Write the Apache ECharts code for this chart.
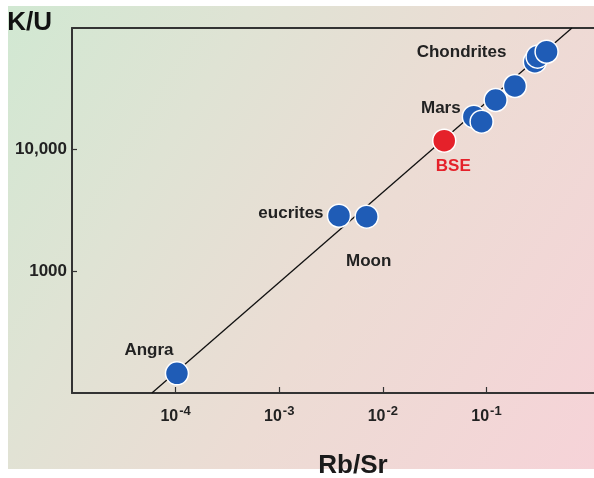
<!DOCTYPE html>
<html>
<head>
<meta charset="utf-8">
<script src="https://cdn.jsdelivr.net/npm/echarts@6/dist/echarts.min.js"></script>
<style>
  html, body { margin: 0; padding: 0; background: #ffffff; }
  #wrap { position: relative; width: 594px; height: 478px; overflow: hidden; }
  #bg { position: absolute; left: 8px; top: 6px; right: 0; bottom: 9px;
        background: linear-gradient(122deg, #d1e8d2 0%, #dfe3d4 28%, #ecdcd4 58%, #f6d3d8 100%); }
  #chart { position: absolute; left: 0; top: 0; width: 594px; height: 478px; }
</style>
</head>
<body>
<div id="wrap"><div id="bg"></div><div id="chart"></div></div>
<script>
// ---- data ----
const bodyRbSr  = [1.03e-4, 3.77e-3, 6.97e-3, 0.0755, 0.0897, 0.1225, 0.188, 0.293, 0.311, 0.380];
const bodyKU    = [145, 2865, 2812, 18660, 16980, 25600, 33350, 52850, 58080, 63830];
const bodyLabel = ['Angra', 'eucrites', 'Moon', 'Mars', '', '', '', '', 'Chondrites', ''];
const bseRbSr   = [0.0391];
const bseKU     = [11860];
const bseLabel  = ['BSE'];
const lineRbSr  = [5.9e-5, 0.667];
const lineKU    = [100, 100000];
const xTicks    = [1e-4, 1e-3, 1e-2, 1e-1];
const yTicks    = [1000, 10000];

// ---- label placement (style, not data) ----
const labelOffset = {
  'Angra': [-28, -23],
  'eucrites': [-48, -2],
  'Moon': [2, 45],
  'Mars': [-33, -8],
  'Chondrites': [-76, -4],
  'BSE': [9, 26]
};

const FONT = 'Liberation Sans, Arial, Helvetica, sans-serif';
const BLUE = '#1f5cb6';
const RED = '#e5212a';

function pointData(xs, ys, labels, color) {
  return xs.map((x, i) => {
    const item = { value: [x, ys[i]] };
    const t = labels[i];
    if (t) {
      item.label = {
        show: true, formatter: t, position: 'inside',
        offset: labelOffset[t],
        color: color, fontFamily: FONT, fontWeight: 'bold', fontSize: 17
      };
    }
    return item;
  });
}

const chart = echarts.init(document.getElementById('chart'), null, { renderer: 'canvas' });

const axisLineStyle = { color: '#333', width: 2 };

chart.setOption({
  backgroundColor: 'transparent',
  animation: false,
  grid: { left: 72, right: 0, top: 28, bottom: 85, containLabel: false, outerBoundsMode: 'none' },
  xAxis: [{
    type: 'log', logBase: 10, min: 1e-5, max: 1.09,
    name: 'Rb/Sr', nameLocation: 'middle', nameGap: 60,
    nameTextStyle: { fontFamily: FONT, fontWeight: 'bold', fontSize: 26, color: '#1a1a1a', padding: [0, 0, 0, 40] },
    axisLine: { show: true, lineStyle: axisLineStyle },
    axisTick: { show: true, inside: true, length: 6, customValues: xTicks, lineStyle: { color: '#333', width: 1.2 } },
    axisLabel: {
      show: true, margin: 12, customValues: xTicks,
      formatter: v => '{b|10}{s|' + Math.round(Math.log10(v)) + '}',
      rich: {
        b: { fontFamily: FONT, fontWeight: 'bold', fontSize: 16, color: '#222' },
        s: { fontFamily: FONT, fontWeight: 'bold', fontSize: 13, color: '#222', padding: [0, 0, 10, 1] }
      }
    },
    splitLine: { show: false }
  }, {
    type: 'log', logBase: 10, min: 1e-5, max: 1.09, position: 'top',
    axisLine: { show: true, lineStyle: axisLineStyle },
    axisTick: { show: false }, axisLabel: { show: false }, splitLine: { show: false }
  }],
  yAxis: {
    type: 'log', logBase: 10, min: 100, max: 100000,
    name: 'K/U', nameLocation: 'end', nameGap: 5,
    nameTextStyle: { fontFamily: FONT, fontWeight: 'bold', fontSize: 26, color: '#111',
                     align: 'right', verticalAlign: 'middle', padding: [0, 20, 0, 0] },
    axisLine: { show: true, lineStyle: axisLineStyle },
    axisTick: { show: true, inside: true, length: 5, customValues: yTicks, lineStyle: { color: '#333', width: 1.2 } },
    axisLabel: {
      show: true, margin: 5, customValues: yTicks,
      fontFamily: FONT, fontWeight: 'bold', fontSize: 17, color: '#222',
      formatter: v => v >= 10000 ? v.toLocaleString('en-US') : String(v)
    },
    splitLine: { show: false }
  },
  series: [{
    type: 'line', name: 'trend', silent: true, z: 1,
    data: lineRbSr.map((x, i) => [x, lineKU[i]]),
    symbol: 'none', lineStyle: { color: '#111', width: 1.3 }
  }, {
    type: 'scatter', name: 'bodies', z: 3,
    data: pointData(bodyRbSr, bodyKU, bodyLabel, '#222'),
    symbol: 'circle', symbolSize: 23,
    itemStyle: { color: BLUE, borderColor: '#ffffff', borderWidth: 1.5, opacity: 1 }
  }, {
    type: 'scatter', name: 'BSE', z: 3,
    data: pointData(bseRbSr, bseKU, bseLabel, RED),
    symbol: 'circle', symbolSize: 23,
    itemStyle: { color: RED, borderColor: '#ffffff', borderWidth: 1.5, opacity: 1 }
  }]
});
</script>
</body>
</html>
